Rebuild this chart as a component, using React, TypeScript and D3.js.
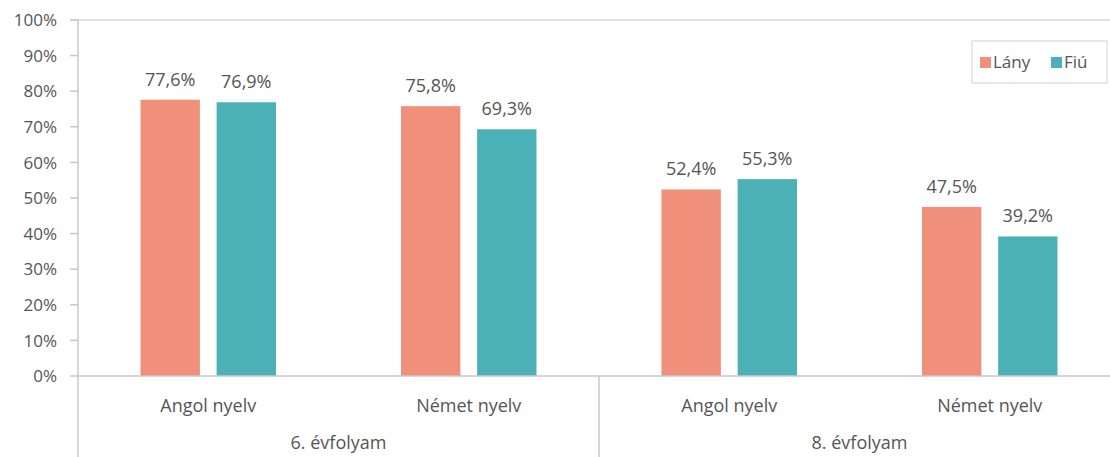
import React from "react";
import * as d3 from "d3";

const groups = ["6. évfolyam", "8. évfolyam"];
const categories = ["Angol nyelv", "Német nyelv", "Angol nyelv", "Német nyelv"];
const series = ["Lány", "Fiú"];
const lanyValues = [77.6, 75.8, 52.4, 47.5];
const fiuValues = [76.9, 69.3, 55.3, 39.2];
const yTicks = [0, 10, 20, 30, 40, 50, 60, 70, 80, 90, 100];
const colors = ["#F0907A", "#4BB1B6"];

const W = 1110;
const H = 457;
const left = 78;
const right = 1120;
const top = 20;
const bottom = 376;
const font = "'Open Sans', 'Noto Sans', sans-serif";
const textColor = "#555555";

export default function App() {
  const y = d3.scaleLinear().domain([0, 100]).range([bottom, top]);
  const x0 = d3.scaleBand<number>().domain(d3.range(categories.length)).range([left, right]).paddingInner(0).paddingOuter(0);
  const x1 = d3.scaleBand<number>().domain([0, 1]).range([x0.bandwidth() * 0.24, x0.bandwidth() * 0.76]).paddingInner(0.22);
  const values = [lanyValues, fiuValues];
  const fmt = (v: number) => d3.format(".1f")(v).replace(".", ",") + "%";
  const groupW = x0.bandwidth() * 2;

  return (
    <svg width={W} height={H} style={{ position: "absolute", left: 0, top: 0, background: "#fff" }}>
      <rect x={0} y={0} width={W} height={H} fill="#fff" />
      <line x1={left - 8} x2={W} y1={y(100)} y2={y(100)} stroke="#d9d9d9" strokeWidth={1.5} />
      <line x1={left} x2={left} y1={top} y2={H} stroke="#c8c8c8" strokeWidth={1.5} />
      {yTicks.map((t) => (
        <g key={t}>
          <line x1={left - 8} x2={left} y1={y(t)} y2={y(t)} stroke="#c8c8c8" strokeWidth={1.5} />
          <text x={57} y={y(t)} dy="0.36em" textAnchor="end" fontFamily={font} fontSize={17} fill={textColor}>
            {t}%
          </text>
        </g>
      ))}
      {categories.map((c, i) => (
        <g key={i} transform={`translate(${x0(i)},0)`}>
          {series.map((s, j) => {
            const v = values[j][i];
            const bx = x1(j)!;
            return (
              <g key={s}>
                <rect x={bx} y={y(v)} width={x1.bandwidth()} height={y(0) - y(v)} fill={colors[j]} />
                <text x={bx + x1.bandwidth() / 2} y={y(v) - 14} textAnchor="middle" fontFamily={font} fontSize={18} fill={textColor}>
                  {fmt(v)}
                </text>
              </g>
            );
          })}
          <text x={x0.bandwidth() / 2} y={412} textAnchor="middle" fontFamily={font} fontSize={18} fill={textColor}>
            {c}
          </text>
        </g>
      ))}
      <line x1={left} x2={W} y1={y(0)} y2={y(0)} stroke="#c8c8c8" strokeWidth={1.5} />
      {groups.map((g, gi) => {
        const gx = left + gi * groupW;
        return (
          <g key={g}>
            <line x1={gx + groupW} x2={gx + groupW} y1={y(0)} y2={H} stroke="#c8c8c8" strokeWidth={1.5} />
            <text x={gx + groupW / 2} y={449} textAnchor="middle" fontFamily={font} fontSize={18} fill={textColor}>
              {g}
            </text>
          </g>
        );
      })}
      <rect x={972} y={41} width={135} height={42} fill="#fff" stroke="#d9d9d9" strokeWidth={1.2} />
      {series.map((s, j) => {
        const lx = j === 0 ? 980 : 1051;
        return (
          <g key={s}>
            <rect x={lx} y={57} width={11} height={11} fill={colors[j]} />
            <text x={lx + 13} y={68} fontFamily={font} fontSize={17} fill={textColor}>
              {s}
            </text>
          </g>
        );
      })}
    </svg>
  );
}
